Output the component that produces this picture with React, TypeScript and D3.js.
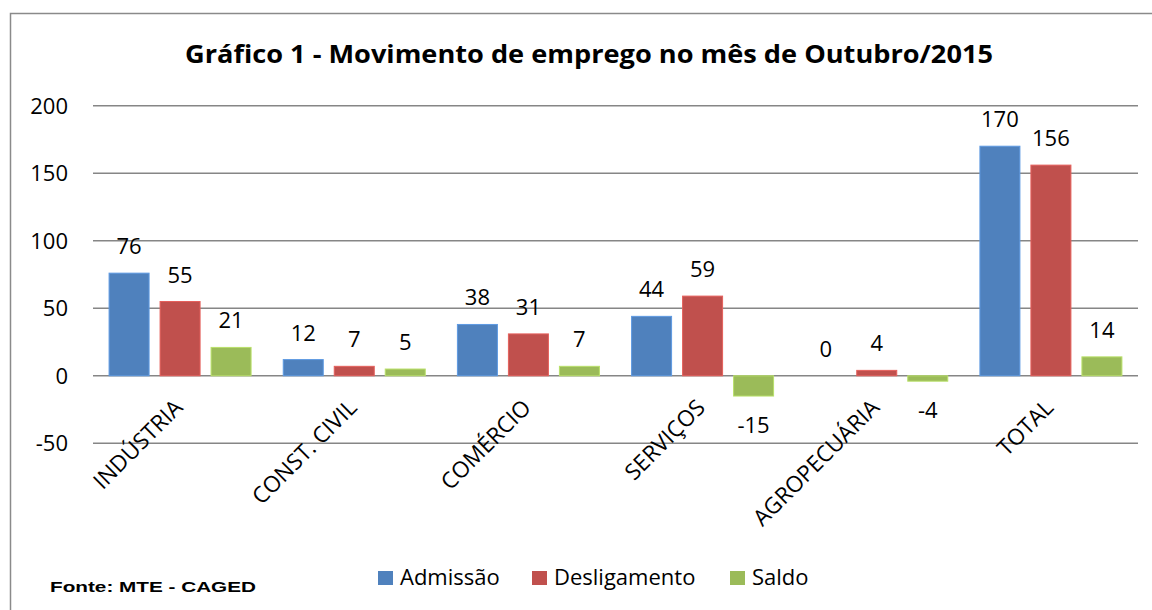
import React from "react";
import * as d3 from "d3";

const categories = ["INDÚSTRIA", "CONST. CIVIL", "COMÉRCIO", "SERVIÇOS", "AGROPECUÁRIA", "TOTAL"];
const seriesNames = ["Admissão", "Desligamento", "Saldo"];
const admissao = [76, 12, 38, 44, 0, 170];
const desligamento = [55, 7, 31, 59, 4, 156];
const saldo = [21, 5, 7, -15, -4, 14];
const yTicks = [-50, 0, 50, 100, 150, 200];
const colors = ["#4F81BD", "#C0504D", "#9BBB59"];

const W = 1152;
const H = 610;
const FONT = "'Open Sans', 'Noto Sans', sans-serif";

export default function App() {
  const seriesValues = [admissao, desligamento, saldo];
  const x0 = d3.scaleBand<string>().domain(categories).range([93, 1138]).paddingInner(0).paddingOuter(0);
  const x1 = d3.scaleBand<string>().domain(seriesNames).range([0, 142]).paddingInner(11 / 51).paddingOuter(0);
  const y = d3.scaleLinear().domain([-50, 200]).range([443.3, 105.7]);
  const groupOffset = (x0.bandwidth() - 142) / 2;

  return (
    <svg width={W} height={H} style={{ position: "absolute", left: 0, top: 0, background: "#fff" }}>
      <rect x={0} y={0} width={W} height={H} fill="#fff" />
      <rect x={10.5} y={13.5} width={1300} height={800} fill="none" stroke="#8a8a8a" strokeWidth={1.5} />
      <text x={589} y={63} textAnchor="middle" fontFamily={FONT} fontWeight={700} fontSize={25.5} textLength={808} lengthAdjust="spacingAndGlyphs" fill="#000">
        Gráfico 1 - Movimento de emprego no mês de Outubro/2015
      </text>
      {yTicks.map((t) => (
        <g key={t}>
          <line x1={93} x2={1138} y1={y(t)} y2={y(t)} stroke="#868686" strokeWidth={1.5} />
          <text x={68} y={y(t) + 8} textAnchor="end" fontFamily={FONT} fontSize={22} fill="#000">
            {t}
          </text>
        </g>
      ))}
      {categories.map((c, ci) => (
        <g key={c}>
          {seriesNames.map((s, si) => {
            const v = seriesValues[si][ci];
            const bx = (x0(c) as number) + groupOffset + (x1(s) as number);
            const bw = x1.bandwidth();
            const top = y(Math.max(0, v));
            const bot = y(Math.min(0, v));
            const cx = bx + bw / 2;
            const ly = v >= 0 ? top - 19 : bot + 37;
            const edge = d3.color(colors[si])!.brighter(0.5).formatHex();
            return (
              <g key={s}>
                {v !== 0 && (
                  <rect x={bx} y={top} width={bw} height={bot - top} fill={colors[si]} stroke={edge} strokeWidth={1} />
                )}
                <text x={cx} y={ly} textAnchor="middle" fontFamily={FONT} fontSize={22} fill="#000">
                  {v}
                </text>
              </g>
            );
          })}
          <text
            transform={`translate(${(x0(c) as number) + x0.bandwidth() / 2 + 4},409) rotate(-45)`}
            textAnchor="end"
            fontFamily={FONT}
            fontSize={22.5}
            fill="#000"
          >
            {c}
          </text>
        </g>
      ))}
      <text x={50} y={592} fontFamily="'Liberation Sans', Arial, sans-serif" fontWeight={700} fontSize={15} textLength={206} lengthAdjust="spacingAndGlyphs" fill="#000">
        Fonte: MTE - CAGED
      </text>
      {seriesNames.map((s, si) => {
        const lx = [378, 532, 730][si];
        return (
          <g key={s}>
            <rect x={lx} y={571} width={15} height={14} fill={colors[si]} />
            <text x={lx + 22} y={585} fontFamily={FONT} fontSize={22} fill="#000">
              {s}
            </text>
          </g>
        );
      })}
    </svg>
  );
}
